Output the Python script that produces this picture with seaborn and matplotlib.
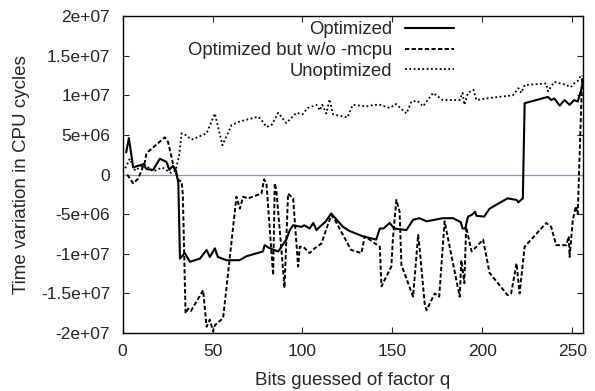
import matplotlib
matplotlib.use('Agg')
import matplotlib.pyplot as plt
import seaborn as sns
import pandas as pd

# --- data (bits guessed, cycles in millions) ---
opt_bits = [2, 3.5, 5.9, 8.5, 11.5, 13.3, 17, 20.7, 24.4, 26, 28, 29.7, 31, 31.9, 34.6,
            37.4, 43, 46.7, 48.5, 51.3, 53, 57.8, 65, 68.9, 78, 79, 81.8, 86.5, 91, 93,
            94.8, 99.4, 101, 104, 106, 107.8, 109.6, 113, 116, 119, 122.6, 126, 133.7, 141,
            143, 145, 148.5, 151, 157.8, 161.5, 165, 169, 178, 183.7, 188, 189, 190.5, 192,
            194, 196, 196.7, 201, 204, 207.8, 214, 219, 220, 222.5, 223.5, 236.4, 238.3,
            240, 243, 245.7, 248.5, 251, 253, 255, 256]
opt_vals = [2.8, 4.6, 0.9, 1.1, 1.3, 0.7, 0.6, 2.0, 1.6, 0.6, 1.1, 0.5, -1.1, -10.6, -9.9,
            -11.0, -10.6, -9.5, -10.4, -9.3, -10.4, -10.8, -10.8, -10.3, -9.7, -8.9, -9.3,
            -9.7, -8.2, -7.0, -6.4, -6.6, -6.4, -6.8, -6.1, -7.0, -6.6, -5.9, -4.9, -5.7,
            -6.6, -7.1, -7.8, -8.2, -6.8, -6.8, -6.1, -6.8, -7.0, -5.7, -5.5, -5.9, -5.5,
            -5.5, -6.0, -6.8, -6.8, -5.3, -5.1, -4.7, -5.2, -5.3, -4.3, -3.8, -3.0, -3.2,
            -3.5, -3.0, 9.0, 9.8, 9.4, 9.6, 8.7, 9.4, 8.8, 9.4, 9.2, 10.7, 12.0]

nomcpu_bits = [2.6, 5.9, 8.7, 12.4, 13.3, 23.5, 25.3, 28, 29, 31, 32.8, 33.5, 35, 36.5, 38,
               44.8, 46.7, 48.5, 50.3, 51.3, 55.9, 63.3, 65.2, 67, 69.8, 77.2, 78.7, 80,
               83.7, 84.6, 85.5, 88.3, 90, 92, 94.8, 97.6, 98.5, 100.4, 104, 106.8, 110.5,
               116, 118, 127, 132.8, 134.6, 143, 143.9, 149.4, 150.3, 152.2, 154, 155, 161.5,
               164.3, 165, 168, 169, 173.5, 176, 179, 187.4, 188.3, 190, 191, 194, 196.7,
               200.4, 204, 214, 216, 219, 220.7, 223.5, 235.5, 238.3, 241, 246.7, 248, 248.5,
               250.3, 252, 253, 255.5]
nomcpu_vals = [0.0, -1.1, -0.5, 1.6, 2.7, 4.7, 4.1, 1.4, 0.6, -0.7, -0.9, -2.5, -17.5, -16.9,
               -17.2, -14.6, -19.2, -18.3, -19.8, -19.0, -18.1, -2.8, -4.3, -2.8, -3.0, -2.4,
               -0.6, -1.2, -12.7, -1.1, -2.0, -9.5, -14.3, -2.4, -3.0, -11.6, -9.1, -9.1,
               -9.9, -9.3, -8.7, -5.1, -5.7, -9.5, -9.9, -7.8, -9.1, -14.1, -11.6, -8.0, -3.2,
               -4.7, -11.4, -15.4, -7.6, -9.0, -16.4, -17.1, -15.0, -15.4, -5.9, -15.4, -10.8,
               -13.7, -6.6, -9.7, -9.1, -8.2, -12.4, -15.2, -15.0, -11.2, -15.0, -9.1, -6.1,
               -6.6, -8.9, -8.9, -7.8, -10.4, -5.7, -4.0, -5.0, 12.5]

unopt_bits = [1.5, 4, 7, 12, 17, 22, 27, 29.5, 31.5, 32.8, 35, 38.3, 46.7, 51.3, 55.5, 60.6,
              65.2, 75.4, 77.5, 80, 83, 86.5, 91, 96.7, 100, 103, 107.8, 109.6, 111, 113.3,
              115, 117, 125, 128, 135.6, 140, 143, 148.5, 152, 157.8, 160.5, 164, 167, 172.6,
              178, 182, 187.4, 189, 190, 192, 195, 196.7, 202, 209, 217, 220, 221.7, 223.5,
              235.5, 236.5, 240, 246.7, 249, 251, 253, 255]
unopt_vals = [0.8, 2.0, 0.5, 1.3, 0.4, 0.9, 0.2, 0.5, 2.5, 5.2, 5.0, 4.4, 5.2, 7.7, 3.7, 6.25,
              6.7, 7.3, 6.8, 6.0, 6.3, 7.8, 6.5, 7.8, 7.6, 8.4, 8.8, 8.1, 8.8, 7.7, 9.5, 7.6,
              7.2, 8.8, 8.6, 8.8, 8.8, 8.4, 8.9, 7.7, 9.2, 9.3, 8.6, 10.3, 9.4, 9.4, 9.4, 10.3,
              8.8, 10.3, 10.7, 9.4, 9.6, 9.8, 10.0, 10.9, 10.3, 11.3, 11.5, 10.5, 11.7, 11.3,
              11.0, 11.5, 11.8, 12.6]

series_names = ['Optimized', 'Optimized but w/o -mcpu', 'Unoptimized']
y_ticks = [2e7, 1.5e7, 1e7, 5e6, 0, -5e6, -1e7, -1.5e7, -2e7]
y_tick_labels = ['2e+07', '1.5e+07', '1e+07', '5e+06', '0', '-5e+06', '-1e+07', '-1.5e+07', '-2e+07']
x_ticks = [0, 50, 100, 150, 200, 250]

sns.set_style("ticks")
plt.rcParams['font.family'] = ['Liberation Sans', 'DejaVu Sans']

fig, ax = plt.subplots(figsize=(5.95, 3.91), dpi=100)
fig.subplots_adjust(left=0.206, right=0.980, top=0.959, bottom=0.148)

ax.axhline(0, color='#8a98a8', lw=0.9, zorder=1)

df_opt = pd.DataFrame({'bits': opt_bits, 'cycles': [v * 1e6 for v in opt_vals]})
df_nomcpu = pd.DataFrame({'bits': nomcpu_bits, 'cycles': [v * 1e6 for v in nomcpu_vals]})
df_unopt = pd.DataFrame({'bits': unopt_bits, 'cycles': [v * 1e6 for v in unopt_vals]})

sns.lineplot(data=df_opt, x='bits', y='cycles', ax=ax, color='black', lw=1.5,
             estimator=None, sort=False, label=series_names[0])
sns.lineplot(data=df_nomcpu, x='bits', y='cycles', ax=ax, color='black', lw=1.4,
             linestyle=(0, (2.2, 1.2)), estimator=None, sort=False, label=series_names[1])
sns.lineplot(data=df_unopt, x='bits', y='cycles', ax=ax, color='black', lw=1.3,
             linestyle=(0, (1, 1.4)), estimator=None, sort=False, label=series_names[2])

ax.set_xlim(0, 256)
ax.set_ylim(-2e7, 2e7)
ax.set_xticks(x_ticks)
ax.set_yticks(y_ticks)
ax.set_yticklabels(y_tick_labels)
ax.tick_params(direction='in', top=True, right=True, length=4, width=0.8, labelsize=12.5)
ax.tick_params(axis='x', pad=8)
ax.tick_params(axis='y', pad=9)
for s in ax.spines.values():
    s.set_linewidth(1.0)
    s.set_color('black')

ax.set_xlabel('Bits guessed of factor q', fontsize=13.5, labelpad=9)
ax.set_ylabel('Time variation in CPU cycles', fontsize=13.5, labelpad=8)

ax.legend(loc='upper right', bbox_to_anchor=(0.727, 0.995), frameon=False,
          markerfirst=False, handlelength=2.65, handletextpad=0.7, fontsize=13.3,
          labelspacing=0.2, borderpad=0.2, borderaxespad=0.0)

plt.savefig('out.png', dpi=100)
